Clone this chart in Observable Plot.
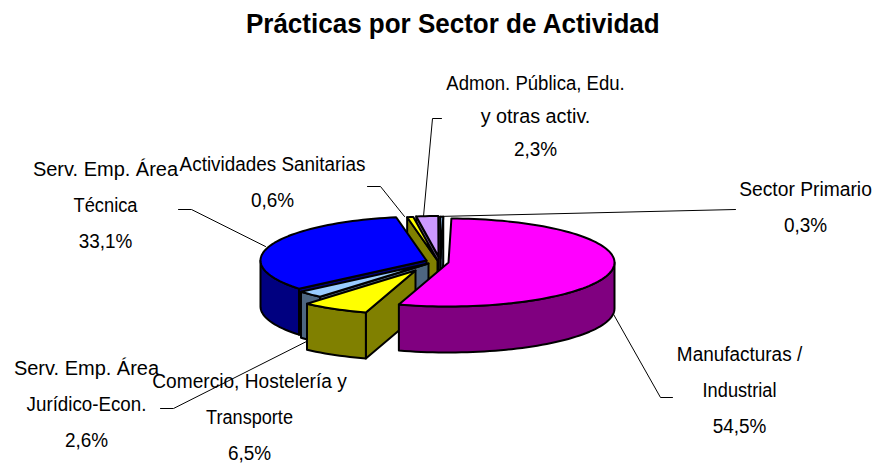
<!DOCTYPE html>
<html lang="es">
<head>
<meta charset="utf-8">
<title>Prácticas por Sector de Actividad</title>
<script src="https://cdn.jsdelivr.net/npm/d3@7"></script>
<script src="https://cdn.jsdelivr.net/npm/@observablehq/plot@0.6"></script>
<style>
html,body{margin:0;padding:0;background:#fff;overflow:hidden}
#t{box-sizing:border-box;width:876px;height:52px;padding-left:30px;text-align:center;
font:bold 27px/49px "Liberation Sans",Arial,sans-serif;color:#000}
#t span{display:inline-block;transform:scaleX(.963);white-space:nowrap}
svg{display:block}
</style>
</head>
<body>
<div id="t"><span>Prácticas por Sector de Actividad</span></div>
<div id="c"></div>
<script>
// ---- chart data ----
const sectors = [
  ["Manufacturas /", "Industrial"],
  ["Comercio, Hostelería y", "Transporte"],
  ["Serv. Emp. Área", "Jurídico-Econ."],
  ["Serv. Emp. Área", "Técnica"],
  ["Actividades Sanitarias"],
  ["Admon. Pública, Edu.", "y otras activ."],
  ["Sector Primario"]
];
const shares = [54.5, 6.5, 2.6, 33.1, 0.6, 2.3, 0.3];
const topColors = ["#ff00ff", "#ffff00", "#99ccff", "#0000ff", "#ffff00", "#cc99ff", "#99ccff"];
const wallColors = ["#800080", "#808000", "#4d6680", "#000080", "#808000", "#664d80", "#4d6680"];

// ---- layout, in the scale's units ----
const firstSliceDeg = 1;
const rx = 166, ry = 44, depth = 46;
const sliceCx = [448, 415, 428, 426, 437, 438, 440];
const sliceCy = [262, 270, 263, 260, 260, 256, 258];
const sliceR  = [1, 1, 1, 1, 1, 0.92, 0.95];
const paintOrder = [6, 5, 4, 3, 2, 1, 0];
const labelX = [739, 249, 86, 105, 272, 535, 805];
const labelY = [354, 381, 368, 169, 164, 83, 189];
const labelStep = [36, 36, 36, 36, 36, 33, 36];
// set width of each label line relative to the font's natural width
const nameCondense = [
  [0.947, 0.91],
  [0.956, 0.905],
  [1, 0.937],
  [1, 0.914],
  [0.944],
  [0.927, 0.99],
  [0.963]
];
const valueCondense = 0.947;
const leaders = [
  [[612, 312], [660, 397], [672, 397]],
  [[308, 340], [173, 408], [160, 408]],
  [[265, 246], [191, 209], [178, 209]],
  [[404, 216], [380, 186], [367, 186]],
  [[423, 216], [432, 118], [441, 118]],
  [[437, 216], [735, 209]]
];

// ---- geometry from the values ----
const rad = d => d * Math.PI / 180;
const arcs = d3.pie().sort(null).value(d => d)
  .startAngle(rad(firstSliceDeg)).endAngle(rad(firstSliceDeg + 360))(shares);

const polys = [];
let pid = 0;
function add(points, fill) {
  pid++;
  for (const [x, y] of points) polys.push({x, y, id: pid, fill});
}
for (const i of paintOrder) {
  const a0 = arcs[i].startAngle, a1 = arcs[i].endAngle;
  const cx = sliceCx[i], cy = sliceCy[i], k = sliceR[i];
  const at = a => [cx + k * rx * Math.sin(a), cy - k * ry * Math.cos(a)];
  const drop = ([x, y]) => [x, y + depth];
  // cut faces turned towards the viewer
  if (Math.sin(a0) < 0) add([[cx, cy], at(a0), drop(at(a0)), [cx, cy + depth]], wallColors[i]);
  if (Math.sin(a1) > 0) add([[cx, cy], at(a1), drop(at(a1)), [cx, cy + depth]], wallColors[i]);
  // outer rim, front half only
  const w0 = Math.max(a0, Math.PI / 2), w1 = Math.min(a1, 1.5 * Math.PI);
  if (w1 > w0) {
    const n = Math.ceil((w1 - w0) / rad(2));
    const rim = d3.range(n + 1).map(j => at(w0 + (w1 - w0) * j / n));
    add([...rim, ...rim.slice().reverse().map(drop)], wallColors[i]);
  }
  // top face
  const m = Math.max(2, Math.ceil((a1 - a0) / rad(2)));
  add([[cx, cy], ...d3.range(m + 1).map(j => at(a0 + (a1 - a0) * j / m))], topColors[i]);
}

const leaderRows = leaders.flatMap((pts, id) => pts.map(([x, y]) => ({x, y, id})));
const labelRows = sectors.flatMap((lines, i) =>
  [...lines, String(shares[i]).replace(".", ",") + "%"].map((text, j) => ({
    text, x: labelX[i], y: labelY[i] + j * labelStep[i],
    condense: j < lines.length ? nameCondense[i][j] : valueCondense
  })));

const chart = Plot.plot({
  width: 876, height: 414,
  margin: 0,
  x: {domain: [0, 876], range: [0, 876], axis: null},
  y: {domain: [52, 466], range: [0, 414], axis: null},
  color: {type: "identity"},
  style: {background: "#fff"},
  marks: [
    Plot.line(leaderRows, {x: "x", y: "y", z: "id", stroke: "#000", strokeWidth: 1, curve: "linear"}),
    Plot.line(polys, {x: "x", y: "y", z: "id", fill: "fill", stroke: "#000", strokeWidth: 2,
      curve: "linear-closed", strokeLinejoin: "round", strokeMiterlimit: 2}),
    Plot.text(labelRows, {x: "x", y: "y", text: "text", fontSize: 20, fill: "#000",
      fontFamily: "'Liberation Sans',Arial,sans-serif", textAnchor: "middle", lineAnchor: "middle"})
  ]
});
document.getElementById("c").appendChild(chart);
// narrow each label line's glyphs to the reference's set width
const condenseByLine = labelRows.map(d => d.condense);
chart.querySelectorAll("text").forEach((t, i) => {
  t.setAttribute("textLength", (t.getComputedTextLength() * condenseByLine[i]).toFixed(1));
  t.setAttribute("lengthAdjust", "spacingAndGlyphs");
});
</script>
</body>
</html>
